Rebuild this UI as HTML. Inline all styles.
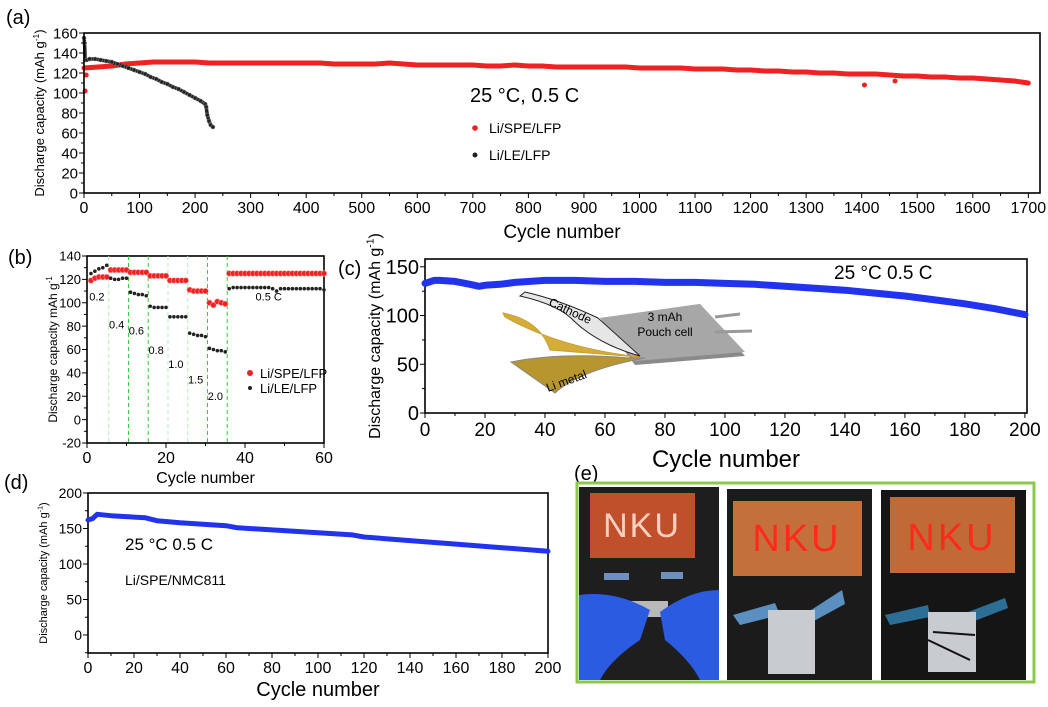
<!DOCTYPE html>
<html><head><meta charset="utf-8"><style>
html,body{margin:0;padding:0;background:#fff}
svg{display:block;font-family:"Liberation Sans",sans-serif}
</style></head><body>
<svg id="fig" width="1048" height="707" viewBox="0 0 1048 707" xmlns="http://www.w3.org/2000/svg">
<g id="pa"></g>
<g id="pb"></g>
<g id="pc"></g>
<g id="pd"></g>
<g id="pe">
  <text x="574" y="480" font-size="20">(e)</text>
  <rect x="577" y="483" width="457" height="199" fill="#fff" stroke="#8cc84b" stroke-width="3"/>
  <g>
    <rect x="579" y="487" width="140" height="193" fill="#1e1e1e"/>
    <rect x="590" y="493" width="105" height="65" fill="#c0502c"/>
    <text x="642" y="537" font-size="34" fill="#ffd0c0" text-anchor="middle" letter-spacing="2">NKU</text>
    <rect x="604" y="573" width="25" height="7" fill="#6f8fbf"/><rect x="661" y="572" width="22" height="7" fill="#6f8fbf"/>
    <rect x="628" y="601" width="40" height="16" fill="#b8b8b8"/>
    <path d="M579 595 Q615 590 650 610 L640 640 Q610 660 600 680 L579 680 Z" fill="#2a5be0"/>
    <path d="M719 590 Q690 590 660 612 L665 640 Q690 660 700 680 L719 680 Z" fill="#2a5be0"/>
  </g>
  <g>
    <rect x="727" y="489" width="145" height="191" fill="#1b1b1b"/>
    <rect x="733" y="501" width="129" height="75" fill="#c4703c"/>
    <text x="797" y="551" font-size="38" fill="#ff2a1a" text-anchor="middle" letter-spacing="3">NKU</text>
    <path d="M733 615 L775 603 L780 615 L740 625 Z" fill="#5b8fc0"/>
    <path d="M842 590 L808 612 L812 622 L845 604 Z" fill="#5b8fc0"/>
    <rect x="768" y="610" width="47" height="64" fill="#c8ccd0"/>
  </g>
  <g>
    <rect x="881" y="490" width="145" height="190" fill="#151515"/>
    <rect x="890" y="497" width="125" height="76" fill="#c06a38"/>
    <text x="952" y="550" font-size="38" fill="#ff2a1a" text-anchor="middle" letter-spacing="3">NKU</text>
    <path d="M885 615 L928 605 L930 617 L890 625 Z" fill="#2c6e96"/>
    <path d="M1005 598 L968 612 L972 622 L1008 608 Z" fill="#2c6e96"/>
    <rect x="928" y="612" width="48" height="60" fill="#c8ccd0"/>
    <line x1="933" y1="632" x2="975" y2="635" stroke="#111" stroke-width="2"/>
    <line x1="928" y1="640" x2="970" y2="660" stroke="#111" stroke-width="2"/>
  </g>
</g>
</svg>
<script>
// ---------- data ----------
const aRedCycles = [0,25,50,75,100,125,150,175,200,225,250,275,300,325,350,375,400,425,450,475,500,525,550,575,600,625,650,675,700,725,750,775,800,825,850,875,900,925,950,975,1000,1025,1050,1075,1100,1125,1150,1175,1200,1225,1250,1275,1300,1325,1350,1375,1400,1425,1450,1475,1500,1525,1550,1575,1600,1625,1650,1675,1700];
const aRedValues = [125,126,127,129,130,131,131,131,131,130,130,130,130,130,130,130,130,130,129,129,129,129,130,129,128,128,128,128,128,127,127,128,127,127,126,126,126,126,126,126,125,125,125,125,124,124,124,123,123,122,122,121,121,120,120,119,119,119,118,117,117,116,116,115,115,114,113,112,110];
const aRedOutCycles = [2,4,1405,1460];
const aRedOutValues = [102,118,108,112];
const aBlackCycles = [0,1,2,5,10,20,30,40,50,60,70,80,90,100,110,120,130,140,150,160,170,180,190,200,210,218,220,222,225,228,232];
const aBlackValues = [155,150,133,133,134,134,133,132,131,129,127,125,123,121,119,116,114,111,109,106,104,101,98,95,92,89,86,78,72,68,66];
const bCycles = [1,2,3,4,5,6,7,8,9,10,11,12,13,14,15,16,17,18,19,20,21,22,23,24,25,26,27,28,29,30,31,32,33,34,35,36,37,38,39,40,41,42,43,44,45,46,47,48,49,50,51,52,53,54,55,56,57,58,59,60];
const bRed = [119,121,122,122,122,128,128,128,128,128,126,126,126,126,126,123,123,123,123,123,119,119,119,119,119,111,110,110,110,110,100,98,101,100,99,125,125,125,125,125,125,125,125,125,125,125,125,125,125,125,125,125,125,125,125,125,125,125,125,125];
const bBlack = [125,127,129,130,132,121,120,120,121,121,109,108,107,107,106,97,96,96,96,96,88,88,88,88,88,74,73,72,72,71,61,60,59,59,58,112,113,113,113,113,113,113,113,113,113,113,112,110,112,112,112,112,112,112,112,112,112,112,112,111];
const bRateLabels = ["0.2","0.4","0.6","0.8","1.0","1.5","2.0","0.5 C"];
const bRateCycle = [2.5,7.5,12.5,17.5,22.5,27.5,32.5,46];
const bRateValue = [102,78,73,56,44,31,17,102];
const bDividers = [5.5,10.5,15.5,20.5,25.5,30.5,35.5];
const cCycles = [0,3,5,10,15,18,20,25,30,35,40,50,60,70,80,90,100,110,120,130,140,150,160,170,180,190,200];
const cValues = [133,136,136,135,132,130,131,132,134,135,136,136,135,135,134,134,133,132,130,128,126,123,120,116,112,107,101];
const dCycles = [0,2,4,10,20,25,30,40,50,60,65,80,100,115,120,140,160,180,200];
const dValues = [162,164,170,168,166,165,161,158,156,154,151,148,144,141,138,133,128,123,118];

const NS = "http://www.w3.org/2000/svg";
function el(parent, tag, attrs, txt){
  const e = document.createElementNS(NS, tag);
  for (const k in attrs) e.setAttribute(k, attrs[k]);
  if (txt !== undefined) e.textContent = txt;
  parent.appendChild(e); return e;
}
function scale(d0,d1,r0,r1){ return v => r0 + (v-d0)*(r1-r0)/(d1-d0); }

function frame(g, P){
  const X = scale(P.xmin,P.xmax,P.x0,P.x1), Y = scale(P.ymin,P.ymax,P.y0,P.y1);
  const box = el(g,'rect',{x:P.x0,y:P.y1,width:P.x1-P.x0,height:P.y0-P.y1,fill:'none',stroke:'#000','stroke-width':1.6});
  
  
  const ratio = Math.round(P.xstep/P.xminor);
  for (let k=Math.ceil(P.xmin/P.xminor); k*P.xminor<=P.xmax+1e-9; k++){
    const v = k*P.xminor;
    const major = (k % ratio)===0;
    el(g,'line',{x1:X(v),x2:X(v),y1:P.y0,y2:P.y0+(major?5:3),stroke:'#000','stroke-width':1});
    if (major){
      const t = el(g,'text',{x:X(v),y:P.y0+P.xfs+4,'font-size':P.xfs,'text-anchor':'middle'}, String(Math.round(v)));
      
      
    }
  }
  const yr = Math.round(P.ystep/P.yminor);
  for (let k=Math.ceil(P.ymin/P.yminor-1e-9); k*P.yminor<=P.ymax+1e-9; k++){
    const v = k*P.yminor;
    const major = (((k % yr)+yr)%yr)===0 && v>=P.yfirst-1e-9;
    el(g,'line',{x1:P.x0,x2:P.x0-(major?5:3),y1:Y(v),y2:Y(v),stroke:'#000','stroke-width':1});
    if (major && v<=P.ylast){
      const t = el(g,'text',{x:P.x0-6,y:Y(v)+P.yfs*0.36,'font-size':P.yfs,'text-anchor':'end'}, String(Math.round(v)));
      
      
    }
  }
  const xt = el(g,'text',{x:(P.x0+P.x1)/2,y:P.xty,'font-size':P.xtfs,'text-anchor':'middle'},'Cycle number');
  
  
  const yt = el(g,'text',{x:0,y:0,'font-size':P.ytfs,'text-anchor':'middle',transform:`translate(${P.ytx},${(P.y0+P.y1)/2+P.ytdy}) rotate(-90)`});
  
  
  yt.appendChild(document.createTextNode(P.ytitle));
  el(yt,'tspan',{dy:-P.ytfs*0.4,'font-size':P.ytfs*0.65},'-1');
  el(yt,'tspan',{dy:P.ytfs*0.4},P.ytclose);
  return {X,Y};
}
function band(g, X, Y, xs, ys, color, w, name){
  const pts = xs.map((c,i)=>X(c).toFixed(1)+','+Y(ys[i]).toFixed(1)).join(' ');
  const pl = el(g,'polyline',{points:pts,fill:'none',stroke:color,'stroke-width':w,'stroke-linejoin':'round','stroke-linecap':'round'});
  
  
}
function dots(g, X, Y, xs, ys, color, r, name, strokeC){
  xs.forEach((c,i)=>{
    const d = el(g,'circle',{cx:X(c),cy:Y(ys[i]),r:r,fill:color,stroke:strokeC||'none','stroke-width':0.6});
    
    
  });
}

// ---------- panel a ----------
(function(){
  const g = document.getElementById('pa');
  const t = el(g,'text',{x:6,y:24,'font-size':20},'(a)');
   
  const dataG = el(g,'g',{});
  const {X,Y} = frame(g,{name:'a',x0:84,x1:1040,y0:193,y1:33,xmin:0,xmax:1721,ymin:0,ymax:160,
    xstep:100,xminor:50,ystep:20,yminor:10,yfirst:0,ylast:160,xfs:16,yfs:15,xtfs:19,xty:238,
    ytitle:'Discharge capacity (mAh g',ytclose:')',ytfs:13,ytx:44,ytdy:0});
  band(dataG,X,Y,aRedCycles,aRedValues,'#ee2222',5,'series-li-spe-lfp');
  dots(dataG,X,Y,aRedOutCycles,aRedOutValues,'#ee2222',2.5,'series-li-spe-lfp-outlier');
  band(dataG,X,Y,aBlackCycles,aBlackValues,'#222',3.5,'series-li-le-lfp');
  dots(dataG,X,Y,aBlackCycles,aBlackValues,'#222',2,'series-li-le-lfp-point','#888');
  const c = el(g,'text',{x:470,y:102,'font-size':20},'25 °C, 0.5 C');
   
  const l1=el(g,'circle',{cx:475,cy:128,r:2.8,fill:'#ee2222'});
   
  const l1t=el(g,'text',{x:489,y:133,'font-size':14},'Li/SPE/LFP');
   
  const l2=el(g,'circle',{cx:475,cy:155,r:2.5,fill:'#222'});
   
  const l2t=el(g,'text',{x:489,y:160,'font-size':14},'Li/LE/LFP');
   
})();

// ---------- panel b ----------
(function(){
  const g = document.getElementById('pb');
  const t = el(g,'text',{x:8,y:264,'font-size':20},'(b)');
   
  const {X,Y} = frame(g,{name:'b',x0:87,x1:324,y0:443,y1:256,xmin:0,xmax:60,ymin:-20,ymax:140,
    xstep:20,xminor:10,ystep:20,yminor:10,yfirst:-20,ylast:140,xfs:16,yfs:13,xtfs:16,xty:483,
    ytitle:'Discharge capacity mAh g',ytclose:'',ytfs:12,ytx:57,ytdy:0});
  bDividers.forEach((c,i)=>{
    const strong = [10.5,15.5,30.5,35.5].includes(c);
    const ln = el(g,'line',{x1:X(c),x2:X(c),y1:256,y2:443,stroke:strong?'#33cc33':'#bfe8bf','stroke-width':1,'stroke-dasharray':'4,3'});
     
  });
  dots(g,X,Y,bCycles,bRed,'#ee2222',2.8,'series-li-spe-lfp','#ff9a9a');
  dots(g,X,Y,bCycles,bBlack,'#222',1.8,'series-li-le-lfp');
  bRateLabels.forEach((s,i)=>{
    const tx = el(g,'text',{x:X(bRateCycle[i]),y:Y(bRateValue[i]),'font-size':11,'text-anchor':'middle'},s);
     
  });
  const m1=el(g,'circle',{cx:250,cy:373,r:3,fill:'#ee2222'});
   
  const t1=el(g,'text',{x:260,y:378,'font-size':13},'Li/SPE/LFP');
   
  const m2=el(g,'circle',{cx:250,cy:388,r:2,fill:'#222'});
   
  const t2=el(g,'text',{x:260,y:393,'font-size':13},'Li/LE/LFP');
   
})();

// ---------- panel c ----------
(function(){
  const g = document.getElementById('pc');
  const t = el(g,'text',{x:338,y:275,'font-size':20},'(c)');
   
  const {X,Y} = frame(g,{name:'c',x0:425,x1:1027,y0:413,y1:259,xmin:0,xmax:200.7,ymin:0,ymax:158,
    xstep:20,xminor:10,ystep:50,yminor:25,yfirst:0,ylast:150,xfs:19,yfs:20,xtfs:24,xty:467,
    ytitle:'Discharge capacity (mAh g',ytclose:')',ytfs:16,ytx:380,ytdy:0});
  band(g,X,Y,cCycles,cValues,'#2233ee',7,'series-pouch-cell');
  const c = el(g,'text',{x:834,y:279,'font-size':19},'25 °C  0.5 C');
   
  const ill = el(g,'g',{});
   
  el(ill,'polygon',{points:'600,318 700,304 745,356 635,365',fill:'#8a8a8a'});
  el(ill,'polygon',{points:'600,318 700,304 745,352 635,361',fill:'#a7a7a7'});
  el(ill,'path',{d:'M715,317 L740,314 M715,332 L752,331',stroke:'#999','stroke-width':3,fill:'none'});
  el(ill,'path',{d:'M511,362 Q560,352 630,358 L645,358 Q580,370 555,393 Z',fill:'#b8962e',stroke:'#888','stroke-width':1});
  el(ill,'path',{d:'M503,313 Q540,320 550,350 L640,357 Q560,348 505,317 Z',fill:'#d4ac3a',stroke:'#c9a030','stroke-width':1});
  el(ill,'path',{d:'M520,296 Q560,305 575,322 Q600,345 640,356 L598,318 Q560,300 525,292 Z',fill:'#e6e6e6',stroke:'#222','stroke-width':1});
  el(ill,'text',{x:548,y:305,'font-size':12,transform:'rotate(25 548 305)'},'Cathode');
  el(ill,'text',{x:548,y:392,'font-size':12,transform:'rotate(-20 548 392)'},'Li metal');
  el(ill,'text',{x:665,y:321,'font-size':12,'text-anchor':'middle'},'3 mAh');
  el(ill,'text',{x:665,y:336,'font-size':12,'text-anchor':'middle'},'Pouch cell');
})();

// ---------- panel d ----------
(function(){
  const g = document.getElementById('pd');
  const t = el(g,'text',{x:4,y:489,'font-size':20},'(d)');
   
  const {X,Y} = frame(g,{name:'d',x0:88,x1:548,y0:653,y1:493,xmin:0,xmax:200,ymin:-25.4,ymax:200,
    xstep:20,xminor:10,ystep:50,yminor:25,yfirst:0,ylast:200,xfs:16,yfs:14,xtfs:20,xty:696,
    ytitle:'Discharge capacity (mAh g',ytclose:')',ytfs:11,ytx:47,ytdy:0});
  band(g,X,Y,dCycles,dValues,'#2233ee',5,'series-nmc811');
  const c = el(g,'text',{x:125,y:550,'font-size':17},'25 °C  0.5 C');
   
  const c2 = el(g,'text',{x:125,y:585,'font-size':14},'Li/SPE/NMC811');
   
})();
</script>
</body></html>
